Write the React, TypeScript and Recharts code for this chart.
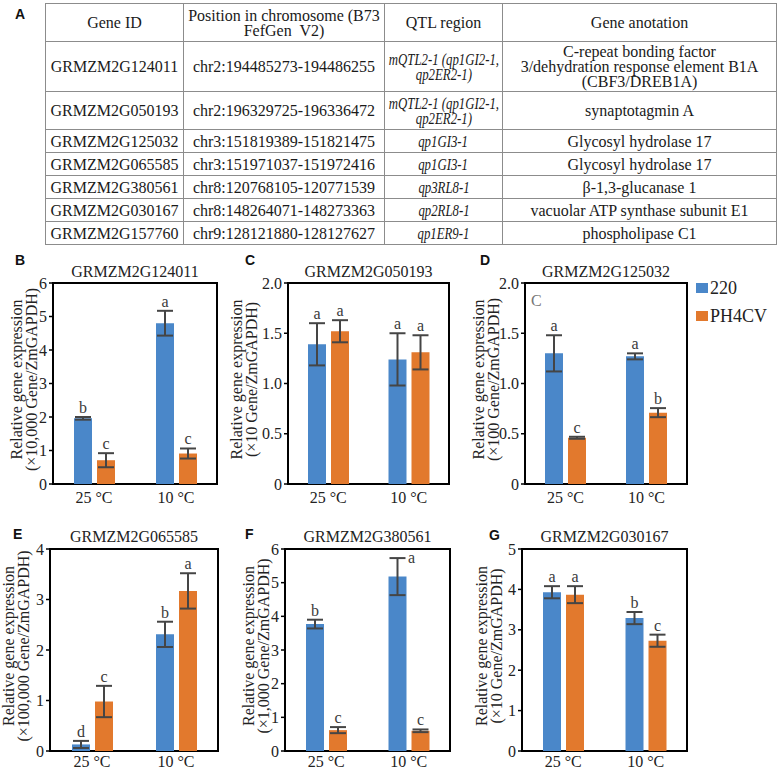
import React from 'react'
import {
  BarChart, Bar, XAxis, YAxis, ErrorBar, LabelList, ReferenceArea, Legend,
} from 'recharts'

const SERIF = '"Liberation Serif", "Times New Roman", serif'
const SANS = '"Liberation Sans", Arial, sans-serif'
const BLUE = '#4a87c9'
const ORANGE = '#e2792d'

// table A
const tableHeader = ['Gene ID', 'Position in chromosome (B73\nFefGen\u00a0 V2)', 'QTL region', 'Gene anotation']
const geneIds = ['GRMZM2G124011', 'GRMZM2G050193', 'GRMZM2G125032', 'GRMZM2G065585', 'GRMZM2G380561', 'GRMZM2G030167', 'GRMZM2G157760']
const positions = [
  'chr2:194485273-194486255', 'chr2:196329725-196336472', 'chr3:151819389-151821475',
  'chr3:151971037-151972416', 'chr8:120768105-120771539', 'chr8:148264071-148273363',
  'chr9:128121880-128127627',
]
const qtlRegions = [
  'mQTL2-1 (qp1GI2-1,\nqp2ER2-1)', 'mQTL2-1 (qp1GI2-1,\nqp2ER2-1)', 'qp1GI3-1', 'qp1GI3-1',
  'qp3RL8-1', 'qp2RL8-1', 'qp1ER9-1',
]
const annotations = [
  'C-repeat bonding factor\n3/dehydration response element B1A\n(CBF3/DREB1A)',
  'synaptotagmin A', 'Glycosyl hydrolase 17', 'Glycosyl hydrolase 17',
  'β-1,3-glucanase 1', 'vacuolar ATP synthase subunit E1', 'phospholipase C1',
]
const colWidths = [138, 201, 118, 274]
const rowHeights = [38, 50, 38, 23, 23, 23, 23, 23]

// bar panels
const categories = ['25 °C', '10 °C']
const seriesNames = ['220', 'PH4CV']

const b220 = [1.96, 4.8]
const b220Err = [0.04, 0.37]
const bPH = [0.71, 0.91]
const bPHErr = [0.21, 0.15]
const b220Letters = ['b', 'a']
const bPHLetters = ['c', 'c']
const bTicks = [0, 1, 2, 3, 4, 5, 6]

const c220 = [1.39, 1.24]
const c220Err = [0.21, 0.26]
const cPH = [1.52, 1.31]
const cPHErr = [0.11, 0.17]
const c220Letters = ['a', 'a']
const cPHLetters = ['a', 'a']
const cTicks = [0, 0.5, 1, 1.5, 2]

const d220 = [1.3, 1.27]
const d220Err = [0.18, 0.03]
const dPH = [0.46, 0.71]
const dPHErr = [0.01, 0.045]
const d220Letters = ['a', 'a']
const dPHLetters = ['c', 'b']
const dTicks = [0, 0.5, 1, 1.5, 2]

const e220 = [0.13, 2.31]
const e220Err = [0.07, 0.25]
const ePH = [0.98, 3.17]
const ePHErr = [0.31, 0.35]
const e220Letters = ['d', 'b']
const ePHLetters = ['c', 'a']
const eTicks = [0, 1, 2, 3, 4]

const f220 = [3.77, 5.18]
const f220Err = [0.13, 0.55]
const fPH = [0.62, 0.6]
const fPHErr = [0.09, 0.04]
const f220Letters = ['b', 'a']
const fPHLetters = ['c', 'c']
const fTicks = [0, 1, 2, 3, 4, 5, 6]

const g220 = [3.93, 3.29]
const g220Err = [0.15, 0.15]
const gPH = [3.87, 2.73]
const gPHErr = [0.21, 0.15]
const g220Letters = ['a', 'b']
const gPHLetters = ['a', 'c']
const gTicks = [0, 1, 2, 3, 4, 5]

type Shift = { index: number; dx: number; dy: number }

const letterContent = (letters: string[], errs: number[], shift?: Shift) => (props: any) => {
  const vb = props.viewBox || props
  const { x, y, width, height } = vb
  const i = props.index
  const v = Number(props.value)
  const ppu = v ? Math.abs(height) / v : 0
  const top = Math.min(y, y + height) - errs[i] * ppu
  const s = shift && shift.index === i ? shift : { dx: 0, dy: 0 }
  return (
    <text x={x + width / 2 + s.dx} y={top - 4 + s.dy} textAnchor="middle"
      fontSize={16} fontFamily={SERIF} fill="#3a3a3a">
      {letters[i]}
    </text>
  )
}

const yLabel = (unit: string, dx: number) => (props: any) => {
  const vb = props.viewBox
  const x1 = vb.x + vb.width + dx
  const cy = vb.y + vb.height / 2 - 4
  return (
    <g fontFamily={SERIF} fontSize={16} fill="#222">
      <text x={x1} y={cy} textAnchor="middle" transform={`rotate(-90 ${x1} ${cy})`}>
        Relative gene expression
      </text>
      <text x={x1 + 15} y={cy} textAnchor="middle" transform={`rotate(-90 ${x1 + 15} ${cy})`}>
        {`(×${unit} Gene/ZmGAPDH)`}
      </text>
    </g>
  )
}

interface PanelProps {
  title: string
  unit: string
  m220: number[]; e220: number[]; mPH: number[]; ePH: number[]
  l220: string[]; lPH: string[]
  ticks: number[]
  decimals: number
  plotX: number; plotY: number; plotW: number; plotH: number
  labelDx: number
  titleGap: number
  xTickGap: number
  legend?: boolean
  shift220?: Shift
}

function Panel(p: PanelProps) {
  const right = p.legend ? 95 : 10
  const left = p.plotX - 60
  const top = p.plotY - 10
  const width = 60 + p.plotW + right
  const height = p.plotH + 38
  const max = p.ticks[p.ticks.length - 1]
  const data = categories.map((cat, i) => ({
    cat, v220: p.m220[i], e220: p.e220[i], vPH: p.mPH[i], ePH: p.ePH[i],
  }))
  return (
    <>
      <div style={{
        position: 'absolute', left: p.plotX, width: p.plotW, top: p.plotY - p.titleGap - 13.4,
        textAlign: 'center', fontFamily: SERIF, fontSize: 16, lineHeight: '16px', color: '#222',
        whiteSpace: 'nowrap',
      }}>{p.title}</div>
      <div style={{ position: 'absolute', left, top }}>
        <BarChart width={width} height={height} data={data} barGap={5} barSize={18}
          margin={{ top: 10, right, left: 0, bottom: 0 }}>
          <XAxis dataKey="cat" height={28} tickLine={false} axisLine={false} tickSize={p.xTickGap} tickMargin={2}
            interval={0} tick={{ fontSize: 16, fill: '#222', fontFamily: SERIF }} />
          <YAxis type="number" width={60} domain={[0, max]} ticks={p.ticks} interval={0}
            axisLine={false} tickSize={4} tickMargin={2}
            tickLine={{ stroke: '#000', strokeWidth: 1.5 }}
            tick={{ fontSize: 16, fill: '#222', fontFamily: SERIF }}
            tickFormatter={(v: number) => (v === 0 ? '0' : v.toFixed(p.decimals))}
            label={yLabel(p.unit, p.labelDx)} />
          <Bar dataKey="v220" name={seriesNames[0]} fill={BLUE} isAnimationActive={false}>
            <ErrorBar dataKey="e220" width={8} strokeWidth={2} stroke="#454545" />
            <LabelList dataKey="v220" content={letterContent(p.l220, p.e220, p.shift220)} />
          </Bar>
          <Bar dataKey="vPH" name={seriesNames[1]} fill={ORANGE} isAnimationActive={false}>
            <ErrorBar dataKey="ePH" width={8} strokeWidth={2} stroke="#454545" />
            <LabelList dataKey="vPH" content={letterContent(p.lPH, p.ePH)} />
          </Bar>
          <ReferenceArea y1={0} y2={max} fill="none" stroke="#000" strokeWidth={2} ifOverflow="visible" />
          {p.legend && (
            <Legend layout="vertical" align="center" verticalAlign="middle"
              wrapperStyle={{ left: 696 - left, top: 274 - top, width: 82 }}
              content={(lp: any) => (
                <div>
                  {(lp.payload || []).map((item: any) => (
                    <div key={item.value} style={{
                      display: 'flex', alignItems: 'center', height: 28,
                      fontFamily: SERIF, fontSize: 18, color: '#222',
                    }}>
                      <span style={{ display: 'inline-block', width: 12, height: 10, background: item.color, marginRight: 2 }} />
                      {item.value}
                    </div>
                  ))}
                </div>
              )} />
          )}
        </BarChart>
      </div>
    </>
  )
}

const panelLetter = (ch: string, x: number, y: number) => (
  <div key={ch} style={{
    position: 'absolute', left: x, top: y, fontFamily: SANS, fontWeight: 'bold',
    fontSize: 14, lineHeight: '14px', color: '#111',
  }}>{ch}</div>
)

export default function App() {
  const cell: React.CSSProperties = {
    border: '1px solid #8c8c8c', padding: 0, textAlign: 'center', verticalAlign: 'middle',
    fontFamily: SERIF, fontSize: 16, lineHeight: '15px', color: '#1a1a1a', whiteSpace: 'pre-line',
  }
  return (
    <div style={{ position: 'absolute', left: 0, top: 0, width: 778, height: 773, background: '#fff', overflow: 'hidden' }}>
      {panelLetter('A', 15, 7)}
      <table style={{
        position: 'absolute', left: 45, top: 3, borderCollapse: 'collapse', tableLayout: 'fixed',
        width: colWidths.reduce((a, b) => a + b, 0),
      }}>
        <colgroup>
          {colWidths.map((w, i) => <col key={i} style={{ width: w }} />)}
        </colgroup>
        <tbody>
          <tr style={{ height: rowHeights[0] }}>
            {tableHeader.map(h => <td key={h} style={cell}>{h}</td>)}
          </tr>
          {geneIds.map((g, i) => (
            <tr key={g} style={{ height: rowHeights[i + 1] }}>
              <td style={cell}>{g}</td>
              <td style={cell}>{positions[i]}</td>
              <td style={{ ...cell, fontStyle: 'italic' }}>
                {/* the figure's italic face is narrow, squeeze it to fit the column */}
                <div style={{ display: 'flex', justifyContent: 'center' }}>
                  <span style={{ display: 'inline-block', whiteSpace: 'pre', transform: 'scaleX(0.8)' }}>
                    {qtlRegions[i]}
                  </span>
                </div>
              </td>
              <td style={cell}>{annotations[i]}</td>
            </tr>
          ))}
        </tbody>
      </table>

      {panelLetter('B', 15, 253)}
      {panelLetter('C', 245, 253)}
      {panelLetter('D', 480, 253)}
      {panelLetter('E', 13, 527)}
      {panelLetter('F', 245, 527)}
      {panelLetter('G', 489, 528)}

      <Panel title="GRMZM2G124011" unit="10,000" m220={b220} e220={b220Err} mPH={bPH} ePH={bPHErr}
        l220={b220Letters} lPH={bPHLetters} ticks={bTicks} decimals={0}
        plotX={53} plotY={283} plotW={164} plotH={201} labelDx={-31} titleGap={6} xTickGap={6} />
      <Panel title="GRMZM2G050193" unit="10" m220={c220} e220={c220Err} mPH={cPH} ePH={cPHErr}
        l220={c220Letters} lPH={cPHLetters} ticks={cTicks} decimals={1}
        plotX={288} plotY={283} plotW={161} plotH={201} labelDx={-46} titleGap={6} xTickGap={6} />
      <Panel title="GRMZM2G125032" unit="100" m220={d220} e220={d220Err} mPH={dPH} ePH={dPHErr}
        l220={d220Letters} lPH={dPHLetters} ticks={dTicks} decimals={1}
        plotX={525} plotY={283} plotW={162} plotH={201} labelDx={-41} titleGap={6} xTickGap={6} legend />
      <div style={{ position: 'absolute', left: 531, top: 293, fontFamily: SERIF, fontSize: 16, lineHeight: '16px', color: '#777' }}>C</div>

      <Panel title="GRMZM2G065585" unit="100,000" m220={e220} e220={e220Err} mPH={ePH} ePH={ePHErr}
        l220={e220Letters} lPH={ePHLetters} ticks={eTicks} decimals={0}
        plotX={50} plotY={549} plotW={168} plotH={202} labelDx={-36} titleGap={7} xTickGap={3} />
      <Panel title="GRMZM2G380561" unit="1,000" m220={f220} e220={f220Err} mPH={fPH} ePH={fPHErr}
        l220={f220Letters} lPH={fPHLetters} ticks={fTicks} decimals={0}
        plotX={285} plotY={549} plotW={165} plotH={202} labelDx={-31} titleGap={7} xTickGap={3}
        shift220={{ index: 1, dx: 14, dy: 9 }} />
      <Panel title="GRMZM2G030167" unit="10" m220={g220} e220={g220Err} mPH={gPH} ePH={gPHErr}
        l220={g220Letters} lPH={gPHLetters} ticks={gTicks} decimals={0}
        plotX={522} plotY={549} plotW={165} plotH={202} labelDx={-35} titleGap={7} xTickGap={3} />
    </div>
  )
}
